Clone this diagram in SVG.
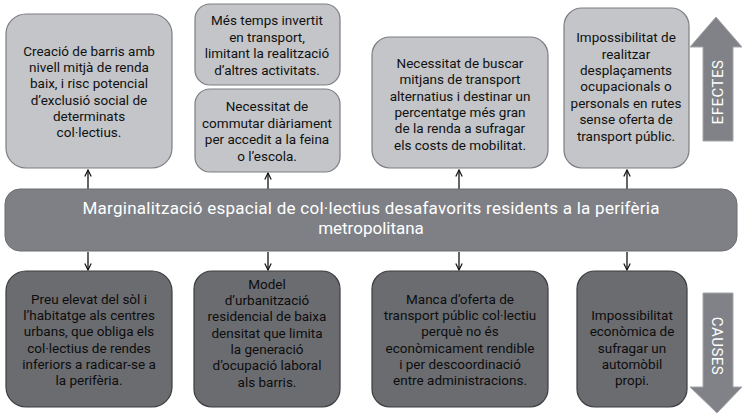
<svg xmlns="http://www.w3.org/2000/svg" width="742" height="417" viewBox="0 0 742 417">
<defs>
<style>
.eff{fill:#c3c5c8;stroke:#7c7e82;stroke-width:1.2}
.cau{fill:#6b6c70;stroke:#3c3d3f;stroke-width:1.2}
.bar{fill:#7e8085;stroke:#6b6d71;stroke-width:1}
.big{fill:#808287;stroke:#a4a6aa;stroke-width:1}
.t{font-family:Roboto,"Liberation Sans",sans-serif;font-size:13.5px;text-anchor:middle;fill:#111}
.tc{font-family:Roboto,"Liberation Sans",sans-serif;font-size:13.5px;text-anchor:middle;fill:#0d0d0d}
.tw{font-family:Roboto,"Liberation Sans",sans-serif;font-size:17px;text-anchor:middle;fill:#fff}
.tv{font-family:Roboto,"Liberation Sans",sans-serif;font-size:15px;text-anchor:middle;fill:#fff;letter-spacing:0.5px}
.c{stroke:#111;stroke-width:1.3;fill:none}
</style>
<marker id="ah" viewBox="0 0 10 10" refX="9" refY="5" markerWidth="8" markerHeight="8" markerUnits="userSpaceOnUse" orient="auto">
<path d="M1,1 L9,5 L1,9" fill="none" stroke="#111" stroke-width="1.5"/>
</marker>
</defs>
<rect width="742" height="417" fill="#fff"/>

<g id="efectes-arrow">
<path class="big" d="M703,141 L703,47 L690,47 L716,17 L742,47 L733,47 L733,141 Z"/>
<text class="tv" transform="translate(723,92) rotate(-90)">EFECTES</text>
</g>
<g id="causes-arrow">
<path class="big" d="M703,293 L733,293 L733,387 L742,387 L717,413 L690,387 L703,387 Z"/>
<text class="tv" transform="translate(712,346) rotate(90)">CAUSES</text>
</g>

<g id="connectors">
<line class="c" x1="88" y1="189" x2="88" y2="170" marker-end="url(#ah)"/>
<line class="c" x1="268" y1="189" x2="268" y2="173" marker-end="url(#ah)"/>
<line class="c" x1="459" y1="189" x2="459" y2="170" marker-end="url(#ah)"/>
<line class="c" x1="627" y1="189" x2="627" y2="170" marker-end="url(#ah)"/>
<line class="c" x1="88" y1="252" x2="88" y2="270" marker-end="url(#ah)"/>
<line class="c" x1="268" y1="252" x2="268" y2="270" marker-end="url(#ah)"/>
<line class="c" x1="459" y1="252" x2="459" y2="270" marker-end="url(#ah)"/>
<line class="c" x1="627" y1="252" x2="627" y2="270" marker-end="url(#ah)"/>
</g>

<g id="center">
<rect class="bar" x="5" y="189" width="732" height="62" rx="15"/>
<text class="tw" x="371" y="214" textLength="577" lengthAdjust="spacing">Marginalització espacial de col·lectius desafavorits residents a la perifèria</text>
<text class="tw" x="371" y="234">metropolitana</text>
</g>

<g id="effect-1">
<rect class="eff" x="6" y="14" width="166" height="154" rx="20"/>
<text class="t" x="89" y="56">Creació de barris amb</text>
<text class="t" x="89" y="72">nivell mitjà de renda</text>
<text class="t" x="89" y="88">baix, i risc potencial</text>
<text class="t" x="89" y="105">d’exclusió social de</text>
<text class="t" x="89" y="121">determinats</text>
<text class="t" x="89" y="137">col·lectius.</text>
</g>
<g id="effect-2a">
<rect class="eff" x="195" y="4" width="145" height="81" rx="15"/>
<text class="t" x="267" y="25">Més temps invertit</text>
<text class="t" x="267" y="42">en transport,</text>
<text class="t" x="267" y="58">limitant la realització</text>
<text class="t" x="267" y="75">d’altres activitats.</text>
</g>
<g id="effect-2b">
<rect class="eff" x="195" y="89" width="145" height="83" rx="15"/>
<text class="t" x="267" y="111">Necessitat de</text>
<text class="t" x="267" y="128">commutar diàriament</text>
<text class="t" x="267" y="144">per accedit a la feina</text>
<text class="t" x="267" y="161">o l’escola.</text>
</g>
<g id="effect-3">
<rect class="eff" x="372" y="37" width="176" height="131" rx="18"/>
<text class="t" x="460" y="68">Necessitat de buscar</text>
<text class="t" x="460" y="84">mitjans de transport</text>
<text class="t" x="460" y="101">alternatius i destinar un</text>
<text class="t" x="460" y="117">percentatge més gran</text>
<text class="t" x="460" y="133">de la renda a sufragar</text>
<text class="t" x="460" y="150">els costs de mobilitat.</text>
</g>
<g id="effect-4">
<rect class="eff" x="564" y="8" width="125" height="160" rx="18"/>
<text class="t" x="626" y="42">Impossibilitat de</text>
<text class="t" x="626" y="59">realitzar</text>
<text class="t" x="626" y="75">desplaçaments</text>
<text class="t" x="626" y="91">ocupacionals o</text>
<text class="t" x="626" y="108">personals en rutes</text>
<text class="t" x="626" y="124">sense oferta de</text>
<text class="t" x="626" y="141">transport públic.</text>
</g>

<g id="cause-1">
<rect class="cau" x="6" y="271" width="166" height="136" rx="20"/>
<text class="tc" x="89" y="304">Preu elevat del sòl i</text>
<text class="tc" x="89" y="320">l’habitatge als centres</text>
<text class="tc" x="89" y="336">urbans, que obliga els</text>
<text class="tc" x="89" y="353">col·lectius de rendes</text>
<text class="tc" x="89" y="369">inferiors a radicar-se a</text>
<text class="tc" x="89" y="385">la perifèria.</text>
</g>
<g id="cause-2">
<rect class="cau" x="194" y="271" width="146" height="136" rx="18"/>
<text class="tc" x="267" y="289">Model</text>
<text class="tc" x="267" y="305">d’urbanització</text>
<text class="tc" x="267" y="321">residencial de baixa</text>
<text class="tc" x="267" y="338">densitat que limita</text>
<text class="tc" x="267" y="354">la generació</text>
<text class="tc" x="267" y="370">d’ocupació laboral</text>
<text class="tc" x="267" y="387">als barris.</text>
</g>
<g id="cause-3">
<rect class="cau" x="372" y="271" width="176" height="136" rx="18"/>
<text class="tc" x="460" y="304">Manca d’oferta de</text>
<text class="tc" x="460" y="320">transport públic col·lectiu</text>
<text class="tc" x="460" y="336">perquè no és</text>
<text class="tc" x="460" y="353">econòmicament rendible</text>
<text class="tc" x="460" y="369">i per descoordinació</text>
<text class="tc" x="460" y="385">entre administracions.</text>
</g>
<g id="cause-4">
<rect class="cau" x="577" y="271" width="110" height="136" rx="18"/>
<text class="tc" x="632" y="320">Impossibilitat</text>
<text class="tc" x="632" y="336">econòmica de</text>
<text class="tc" x="632" y="353">sufragar un</text>
<text class="tc" x="632" y="369">automòbil</text>
<text class="tc" x="632" y="385">propi.</text>
</g>
</svg>
